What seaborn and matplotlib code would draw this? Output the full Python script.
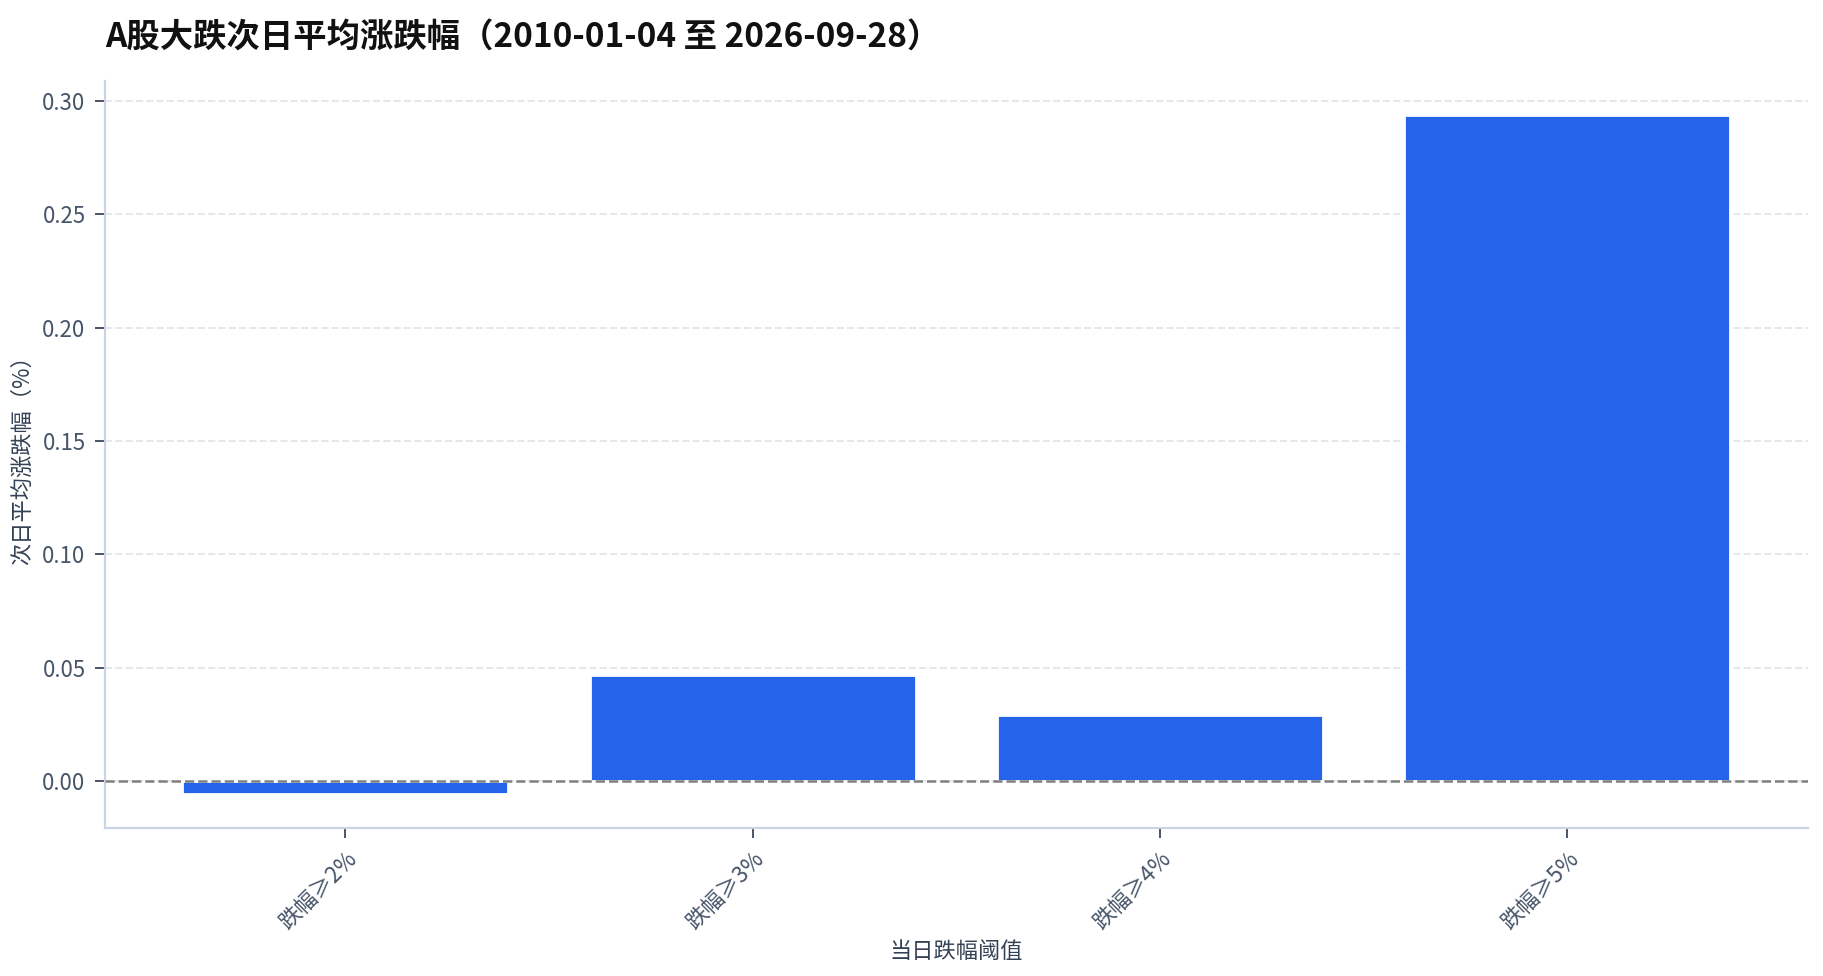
import matplotlib
matplotlib.use("Agg")
import matplotlib.pyplot as plt
import seaborn as sns
import pandas as pd

thresholds = ["跌幅≥2%", "跌幅≥3%", "跌幅≥4%", "跌幅≥5%"]
next_day_mean = [-0.0057, 0.0468, 0.0292, 0.2938]

title = "A股大跌次日平均涨跌幅（2010-01-04 至 2026-09-28）"

sns.set_theme(style="white")
plt.rcParams["font.family"] = ["Noto Sans CJK SC", "DejaVu Sans"]
plt.rcParams["axes.unicode_minus"] = False

df = pd.DataFrame({"threshold": thresholds, "ret": next_day_mean})

fig = plt.figure(figsize=(9.12, 4.88), dpi=200)
ax = fig.add_axes([0.0576, 0.1516, 0.9334, 0.7654])

sns.barplot(data=df, x="threshold", y="ret", color="#2563EB", saturation=1,
            width=0.8, ax=ax, zorder=2)
ax.set_xlim(-0.59, 3.59)
ax.axhline(0, color="#808080", linestyle="--", linewidth=0.9, zorder=3)

ax.yaxis.grid(True, linestyle="--", color="#e5e7eb", linewidth=0.7, zorder=0)
ax.set_axisbelow(True)
sns.despine(ax=ax)
for side in ["left", "bottom"]:
    ax.spines[side].set_color("#cbd5e1")
    ax.spines[side].set_linewidth(0.8)

ax.tick_params(axis="both", labelsize=8, colors="#475569", length=3.5,
               width=0.7, left=True, bottom=True)
plt.setp(ax.get_xticklabels(), rotation=45, ha="right", rotation_mode="anchor")
ax.yaxis.set_major_formatter(matplotlib.ticker.FormatStrFormatter("%.2f"))

ax.set_xlabel("当日跌幅阈值", fontsize=8, color="#334155", labelpad=2)
ax.set_ylabel("次日平均涨跌幅（%）", fontsize=8, color="#334155", labelpad=3)
ax.set_title(title, loc="left", fontsize=12, fontweight="bold", color="#111111", pad=12)

fig.savefig("out.png", dpi=200)
